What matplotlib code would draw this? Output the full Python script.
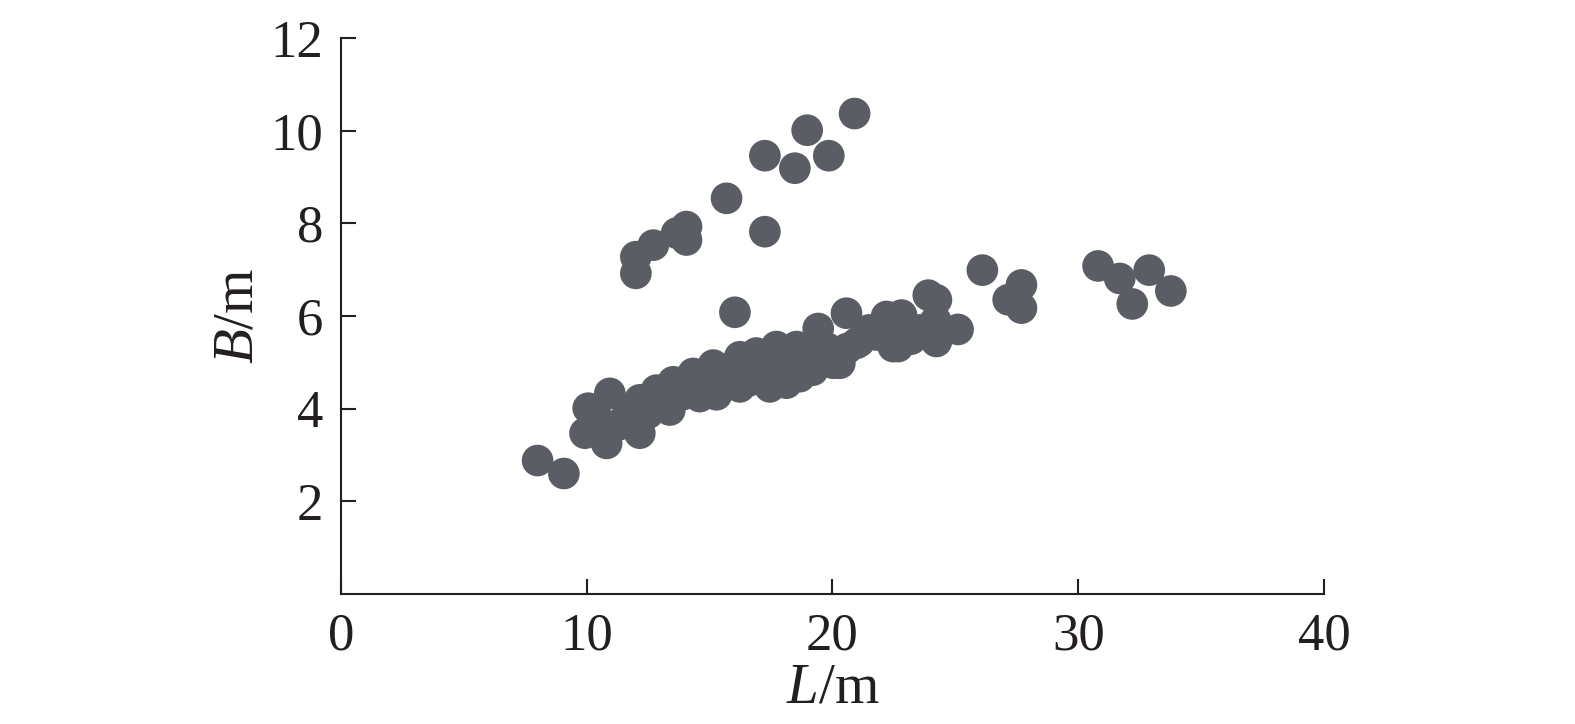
import matplotlib
matplotlib.use('Agg')
import matplotlib.pyplot as plt

# ship length L (m) and beam B (m)
L = [8.0, 9.07, 9.93, 10.06, 10.81, 10.94, 10.4, 10.4, 11.62, 12.16, 12.16,
     12.84, 13.38, 13.52, 14.33, 14.6, 15.15, 15.28, 15.15, 16.23, 16.23,
     16.1, 16.9, 17.45, 17.72, 17.86, 18.54, 18.67, 18.13, 19.2, 19.42,
     20.03, 20.3, 20.57, 20.98, 21.1, 21.79, 22.2, 22.47, 22.67, 22.81,
     23.0, 23.56, 23.9, 24.23, 24.23, 25.11,
     11.3, 12.5, 13.9, 15.8, 16.6, 17.0, 18.0, 19.0, 19.8, 20.6, 21.5,
     23.2, 24.2, 14.0, 17.3,
     16.03,
     12.0, 12.0, 12.71, 13.66, 14.06, 14.06, 15.69, 17.25, 17.25, 18.47,
     18.97, 19.85, 20.9,
     26.1, 27.15, 27.69, 27.69, 30.81, 31.69, 32.89, 32.2, 33.77]
B = [2.88, 2.60, 3.47, 4.01, 3.25, 4.33, 3.83, 3.6, 3.83, 3.47, 4.19,
     4.40, 3.97, 4.58, 4.76, 4.26, 4.94, 4.30, 4.69, 5.12, 4.47,
     4.98, 5.20, 4.47, 5.34, 4.69, 5.34, 4.69, 4.55, 4.83, 5.73,
     4.98, 4.98, 6.06, 5.41, 5.45, 5.59, 5.99, 5.34, 5.34, 6.02,
     5.70, 5.70, 6.45, 6.35, 5.45, 5.71,
     3.65, 3.90, 4.30, 4.80, 4.60, 4.75, 5.00, 5.10, 5.30, 5.30, 5.70,
     5.50, 5.90, 4.50, 4.90,
     6.08,
     6.92, 7.28, 7.53, 7.79, 7.93, 7.64, 8.54, 9.46, 7.82, 9.19,
     10.01, 9.46, 10.37,
     6.99, 6.35, 6.67, 6.17, 7.08, 6.81, 6.99, 6.26, 6.54]

xticks = [0, 10, 20, 30, 40]
yticks = [2, 4, 6, 8, 10, 12]

plt.rcParams['font.family'] = ['Liberation Serif', 'DejaVu Serif']
plt.rcParams['mathtext.fontset'] = 'custom'
plt.rcParams['mathtext.rm'] = 'Liberation Serif'
plt.rcParams['mathtext.it'] = 'Liberation Serif:italic'

ink = '#231f20'

fig = plt.figure(figsize=(15.75, 7.24), dpi=100)
ax = fig.add_axes([0.2165, 0.1796, 0.8406 - 0.2165, 0.9475 - 0.1796])

ax.scatter(L, B, s=520, c='#5a5d63', edgecolors='none', clip_on=False, zorder=3)

ax.set_xlim(0, 40)
ax.set_ylim(0, 12)
ax.set_xticks(xticks)
ax.set_yticks(yticks)

for side in ['top', 'right']:
    ax.spines[side].set_visible(False)
for side in ['left', 'bottom']:
    ax.spines[side].set_linewidth(1.5)
    ax.spines[side].set_color(ink)

ax.tick_params(axis='both', direction='in', length=11, width=1.5,
               color=ink, labelcolor=ink, labelsize=38)
ax.tick_params(axis='x', pad=13)
ax.tick_params(axis='y', pad=13)

ax.set_xlabel(r'$L$/m', fontsize=41, color=ink, labelpad=2)
ax.set_ylabel(r'$B$/m', fontsize=41, color=ink, labelpad=4)

fig.savefig('out.png', dpi=100)
